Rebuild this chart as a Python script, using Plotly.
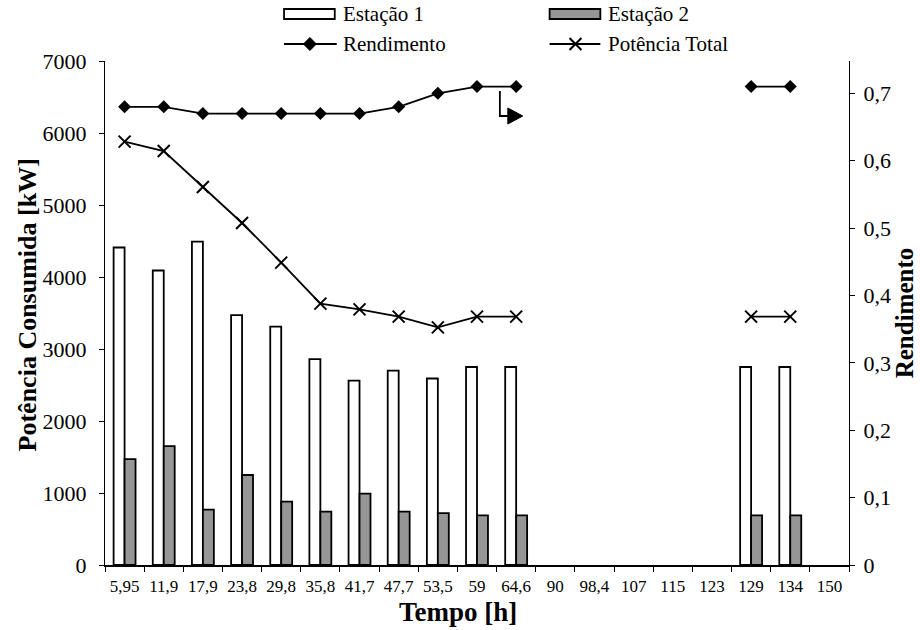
import plotly.graph_objects as go

# Time axis categories (hours)
tempo = ["5,95", "11,9", "17,9", "23,8", "29,8", "35,8", "41,7", "47,7", "53,5",
         "59", "64,6", "90", "98,4", "107", "115", "123", "129", "134", "150"]

# Power consumed by each pumping station [kW]
estacao_1 = [4410, 4090, 4490, 3470, 3310, 2860, 2560, 2700, 2590, 2750, 2750,
             None, None, None, None, None, 2750, 2750, None]
estacao_2 = [1470, 1650, 770, 1250, 880, 740, 990, 740, 720, 690, 690,
             None, None, None, None, None, 690, 690, None]

# Total power [kW]
potencia_total = [5880, 5750, 5250, 4750, 4200, 3630, 3550, 3450, 3300, 3450, 3450,
                  None, None, None, None, None, 3450, 3450, None]

# Overall efficiency
rendimento = [0.68, 0.68, 0.67, 0.67, 0.67, 0.67, 0.67, 0.68, 0.70, 0.71, 0.71,
              None, None, None, None, None, 0.71, 0.71, None]

FONT = "'Liberation Serif', 'Times New Roman', Times, serif"
W, H = 920, 630
ML, MR, MT, MB = 105, 67, 61, 65
PW, PH = W - ML - MR, H - MT - MB


def px(x):
    return (x - ML) / PW


def py(y):
    return (H - MB - y) / PH


fig = go.Figure()

fig.add_trace(go.Bar(x=tempo, y=estacao_1, name="Estação 1",
                     marker=dict(color="white", line=dict(color="black", width=1.8)),
                     showlegend=False))
fig.add_trace(go.Bar(x=tempo, y=estacao_2, name="Estação 2",
                     marker=dict(color="#969696", line=dict(color="black", width=1.8)),
                     showlegend=False))
fig.add_trace(go.Scatter(x=tempo, y=potencia_total, name="Potência Total",
                         mode="lines+markers", connectgaps=False,
                         line=dict(color="black", width=1.8),
                         marker=dict(symbol="x-thin-open", size=12,
                                     line=dict(color="black", width=2)),
                         showlegend=False))
fig.add_trace(go.Scatter(x=tempo, y=rendimento, name="Rendimento", yaxis="y2",
                         mode="lines+markers", connectgaps=False,
                         line=dict(color="black", width=1.8),
                         marker=dict(symbol="diamond", size=10, color="black"),
                         showlegend=False))

shapes = []
annotations = []


# Legend drawn above the plot area
def legend_text(x, y, text):
    annotations.append(dict(x=px(x), y=py(y), xref="paper", yref="paper",
                            text=text, showarrow=False, xanchor="left",
                            yanchor="middle",
                            font=dict(family=FONT, size=21, color="black")))


for x0, fill, label in [(285, "white", "Estação 1"), (552, "#969696", "Estação 2")]:
    shapes.append(dict(type="rect", xref="paper", yref="paper",
                       x0=px(x0), x1=px(x0 + 51), y0=py(19), y1=py(9),
                       fillcolor=fill, line=dict(color="black", width=1.8)))
    legend_text(x0 + 57, 14, label)

# Rendimento legend symbol
shapes.append(dict(type="line", xref="paper", yref="paper",
                   x0=px(285), x1=px(338), y0=py(44), y1=py(44),
                   line=dict(color="black", width=1.8)))
cx, cy, r = 311, 44, 6.5
shapes.append(dict(type="path", xref="paper", yref="paper",
                   path=f"M{px(cx - r)},{py(cy)} L{px(cx)},{py(cy - r)} "
                        f"L{px(cx + r)},{py(cy)} L{px(cx)},{py(cy + r)} Z",
                   fillcolor="black", line=dict(color="black", width=1)))
legend_text(342, 44, "Rendimento")

# Potência Total legend symbol
shapes.append(dict(type="line", xref="paper", yref="paper",
                   x0=px(552), x1=px(603), y0=py(44), y1=py(44),
                   line=dict(color="black", width=1.8)))
cx, r = 578, 6
for dy in (-r, r):
    shapes.append(dict(type="line", xref="paper", yref="paper",
                       x0=px(cx - r), x1=px(cx + r), y0=py(cy - dy), y1=py(cy + dy),
                       line=dict(color="black", width=2)))
legend_text(609, 44, "Potência Total")

# Bent arrow after the last measured point
shapes.append(dict(type="path", xref="paper", yref="paper",
                   path=f"M{px(502)},{py(91)} L{px(502)},{py(116)} L{px(511)},{py(116)}",
                   line=dict(color="black", width=1.8)))
shapes.append(dict(type="path", xref="paper", yref="paper",
                   path=f"M{px(510)},{py(108)} L{px(525)},{py(116)} L{px(510)},{py(124)} Z",
                   fillcolor="black", line=dict(color="black", width=1)))

# Axis titles
annotations.append(dict(x=px(460), y=py(612), xref="paper", yref="paper",
                        text="<b>Tempo [h]</b>", showarrow=False,
                        xanchor="center", yanchor="middle",
                        font=dict(family=FONT, size=27, color="black")))
annotations.append(dict(x=px(27), y=py(305), xref="paper", yref="paper",
                        text="<b>Potência Consumida [kW]</b>", showarrow=False,
                        textangle=-90, xanchor="center", yanchor="middle",
                        font=dict(family=FONT, size=26, color="black")))

fig.update_layout(
    width=W, height=H,
    margin=dict(l=ML, r=MR, t=MT, b=MB, pad=0),
    paper_bgcolor="white", plot_bgcolor="white",
    barmode="group", bargap=0.44, bargroupgap=0,
    separators=", ",
    font=dict(family=FONT, color="black"),
    shapes=shapes, annotations=annotations,
    xaxis=dict(type="category", categoryorder="array", categoryarray=tempo,
               range=[-0.5, len(tempo) - 0.5], autorange=False,
               showline=True, linecolor="black", linewidth=1.5,
               ticks="outside", ticklen=5, tickcolor="black", tickwidth=1,
               tickson="boundaries", showgrid=False, zeroline=False,
               tickfont=dict(family=FONT, size=17, color="black"),
               ticklabelstandoff=5, tickangle=0),
    yaxis=dict(range=[0, 7000], dtick=1000, tick0=0,
               showline=True, linecolor="black", linewidth=1,
               ticks="outside", ticklen=5, tickcolor="black",
               showgrid=False, zeroline=False,
               tickfont=dict(family=FONT, size=22, color="black"),
               ticklabelstandoff=8),
    yaxis2=dict(range=[0, 0.748], dtick=0.1, tick0=0, overlaying="y", side="right",
                showline=True, linecolor="black", linewidth=1,
                ticks="outside", ticklen=5, tickcolor="black",
                showgrid=False, zeroline=False,
                tickfont=dict(family=FONT, size=22, color="black"),
                ticklabelstandoff=4,
                title=dict(text="<b>Rendimento</b>",
                           font=dict(family=FONT, size=25, color="black"),
                           standoff=0)),
)

fig.write_html("out.html")
